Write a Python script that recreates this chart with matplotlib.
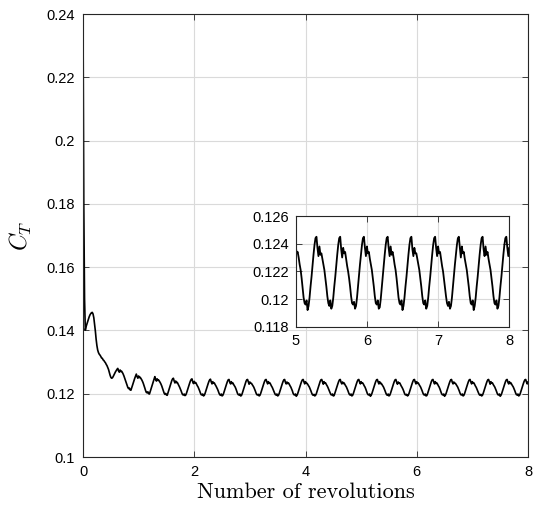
import numpy as np
import matplotlib
matplotlib.use("Agg")
import matplotlib.pyplot as plt
from matplotlib.ticker import FormatStrFormatter

plt.rcParams['mathtext.fontset'] = 'cm'
plt.rcParams['font.family'] = ['Liberation Sans', 'DejaVu Sans']

# ---- data: thrust coefficient sampled every 1/72 revolution (0 .. 8 rev) ----
ct_startup = [
    0.2400, 0.1800, 0.1500, 0.1401, 0.1412, 0.1420, 0.1428, 0.1436, 0.1443, 0.1449, 0.1453, 0.1456,
    0.1457, 0.1452, 0.1440, 0.1420, 0.1398, 0.1372, 0.1352, 0.1338, 0.1330, 0.1325, 0.1322, 0.1318,
    0.1313, 0.1312, 0.1307, 0.1305, 0.1301, 0.1298, 0.1293, 0.1289, 0.1283, 0.1277, 0.1268, 0.1259,
    0.1252, 0.1249, 0.1250, 0.1254, 0.1259, 0.1264, 0.1269, 0.1273, 0.1277, 0.1280, 0.1272, 0.1268,
    0.1275, 0.1270, 0.1271, 0.1267, 0.1262, 0.1256, 0.1249, 0.1242, 0.1235, 0.1227, 0.1220, 0.1216,
    0.1218, 0.1212, 0.1211, 0.1218, 0.1226, 0.1234, 0.1242, 0.1249, 0.1256, 0.1262, 0.1254, 0.1249,
    0.1256, 0.1251, 0.1252, 0.1248, 0.1244, 0.1239, 0.1233, 0.1226, 0.1218, 0.1210, 0.1204, 0.1203,
    0.1206, 0.1200, 0.1199, 0.1207, 0.1215, 0.1223, 0.1231, 0.1239, 0.1246, 0.1254, 0.1246, 0.1240,
    0.1247, 0.1242, 0.1243, 0.1239, 0.1235, 0.1230, 0.1224, 0.1217, 0.1209, 0.1202, 0.1198, 0.1201,
    0.1196, 0.1195, 0.1203, 0.1212, 0.1220, 0.1228, 0.1236, 0.1242, 0.1247,
]

ct_periodic = [
    [0.1249, 0.1240, 0.1234, 0.1240, 0.1235, 0.1236, 0.1231, 0.1226, 0.1221, 0.1215, 0.1209, 0.1202, 0.1197, 0.1196, 0.1199, 0.1194, 0.1196, 0.1202, 0.1210, 0.1217, 0.1225, 0.1233, 0.1240, 0.1245],
    [0.1247, 0.1238, 0.1232, 0.1239, 0.1234, 0.1235, 0.1230, 0.1225, 0.1221, 0.1215, 0.1209, 0.1202, 0.1197, 0.1196, 0.1199, 0.1193, 0.1195, 0.1201, 0.1209, 0.1216, 0.1224, 0.1232, 0.1239, 0.1244],
    [0.1246, 0.1237, 0.1231, 0.1238, 0.1233, 0.1234, 0.1229, 0.1225, 0.1220, 0.1215, 0.1209, 0.1202, 0.1197, 0.1195, 0.1199, 0.1193, 0.1195, 0.1201, 0.1209, 0.1216, 0.1224, 0.1232, 0.1239, 0.1244],
    [0.1245, 0.1236, 0.1231, 0.1238, 0.1232, 0.1234, 0.1229, 0.1225, 0.1221, 0.1215, 0.1208, 0.1201, 0.1197, 0.1196, 0.1199, 0.1193, 0.1194, 0.1200, 0.1208, 0.1216, 0.1224, 0.1232, 0.1239, 0.1244],
    [0.1245, 0.1237, 0.1230, 0.1237, 0.1233, 0.1233, 0.1229, 0.1225, 0.1221, 0.1215, 0.1209, 0.1202, 0.1197, 0.1196, 0.1198, 0.1193, 0.1195, 0.1201, 0.1209, 0.1217, 0.1225, 0.1232, 0.1239, 0.1244],
    [0.1245, 0.1237, 0.1231, 0.1238, 0.1233, 0.1234, 0.1229, 0.1224, 0.1220, 0.1214, 0.1208, 0.1202, 0.1197, 0.1196, 0.1199, 0.1193, 0.1195, 0.1201, 0.1209, 0.1216, 0.1224, 0.1232, 0.1239, 0.1244],
    [0.1245, 0.1236, 0.1231, 0.1237, 0.1232, 0.1234, 0.1230, 0.1225, 0.1221, 0.1215, 0.1209, 0.1201, 0.1197, 0.1196, 0.1199, 0.1192, 0.1195, 0.1201, 0.1209, 0.1216, 0.1224, 0.1232, 0.1239, 0.1244],
    [0.1245, 0.1237, 0.1231, 0.1238, 0.1233, 0.1233, 0.1229, 0.1225, 0.1221, 0.1215, 0.1209, 0.1202, 0.1197, 0.1195, 0.1198, 0.1193, 0.1195, 0.1200, 0.1208, 0.1216, 0.1224, 0.1232, 0.1239, 0.1244],
    [0.1245, 0.1237, 0.1230, 0.1238, 0.1233, 0.1234, 0.1229, 0.1225, 0.1220, 0.1214, 0.1208, 0.1202, 0.1197, 0.1196, 0.1199, 0.1193, 0.1194, 0.1201, 0.1209, 0.1217, 0.1225, 0.1232, 0.1239, 0.1244],
    [0.1245, 0.1236, 0.1231, 0.1237, 0.1232, 0.1234, 0.1229, 0.1225, 0.1221, 0.1215, 0.1209, 0.1202, 0.1197, 0.1196, 0.1199, 0.1193, 0.1195, 0.1201, 0.1209, 0.1216, 0.1224, 0.1232, 0.1239, 0.1244],
    [0.1245, 0.1237, 0.1231, 0.1238, 0.1233, 0.1234, 0.1230, 0.1225, 0.1221, 0.1215, 0.1208, 0.1201, 0.1197, 0.1196, 0.1199, 0.1192, 0.1195, 0.1201, 0.1209, 0.1216, 0.1224, 0.1232, 0.1239, 0.1244],
    [0.1245, 0.1237, 0.1231, 0.1238, 0.1232, 0.1233, 0.1229, 0.1225, 0.1221, 0.1215, 0.1209, 0.1202, 0.1197, 0.1195, 0.1199, 0.1193, 0.1195, 0.1201, 0.1209, 0.1216, 0.1224, 0.1232, 0.1239, 0.1244],
    [0.1245, 0.1236, 0.1230, 0.1237, 0.1233, 0.1234, 0.1229, 0.1224, 0.1220, 0.1215, 0.1209, 0.1202, 0.1197, 0.1196, 0.1198, 0.1193, 0.1195, 0.1201, 0.1209, 0.1217, 0.1225, 0.1232, 0.1239, 0.1244],
    [0.1245, 0.1237, 0.1231, 0.1238, 0.1233, 0.1234, 0.1229, 0.1225, 0.1221, 0.1215, 0.1209, 0.1202, 0.1197, 0.1196, 0.1199, 0.1193, 0.1194, 0.1200, 0.1208, 0.1216, 0.1224, 0.1232, 0.1239, 0.1244],
    [0.1245, 0.1237, 0.1231, 0.1238, 0.1232, 0.1234, 0.1230, 0.1225, 0.1221, 0.1215, 0.1208, 0.1201, 0.1197, 0.1196, 0.1199, 0.1192, 0.1195, 0.1201, 0.1209, 0.1216, 0.1224, 0.1232, 0.1239, 0.1244],
    [0.1245, 0.1236, 0.1231, 0.1237, 0.1233, 0.1233, 0.1229, 0.1225, 0.1221, 0.1215, 0.1209, 0.1202, 0.1197, 0.1196, 0.1199, 0.1193, 0.1195, 0.1201, 0.1209, 0.1216, 0.1224, 0.1232, 0.1239, 0.1244],
    [0.1245, 0.1237, 0.1231, 0.1238, 0.1233, 0.1234, 0.1229, 0.1224, 0.1220, 0.1214, 0.1208, 0.1202, 0.1197, 0.1195, 0.1198, 0.1193, 0.1195, 0.1201, 0.1209, 0.1217, 0.1225, 0.1232, 0.1239, 0.1244],
    [0.1245, 0.1237, 0.1230, 0.1238, 0.1233, 0.1234, 0.1229, 0.1225, 0.1221, 0.1215, 0.1209, 0.1202, 0.1197, 0.1196, 0.1199, 0.1192, 0.1195, 0.1201, 0.1209, 0.1216, 0.1224, 0.1232, 0.1239, 0.1244],
    [0.1245, 0.1236, 0.1231, 0.1238, 0.1232, 0.1234, 0.1229, 0.1225, 0.1221, 0.1215, 0.1209, 0.1202, 0.1197, 0.1196, 0.1199, 0.1193, 0.1195, 0.1201, 0.1209, 0.1216, 0.1224, 0.1232, 0.1239, 0.1244],
]

ct_tail = [0.1245, 0.1237, 0.1231, 0.1237]

ct = np.concatenate([ct_startup] + ct_periodic + [ct_tail])
revolutions = np.linspace(0, 8, len(ct))

main_xticks = [0, 2, 4, 6, 8]
main_yticks = [0.10, 0.12, 0.14, 0.16, 0.18, 0.20, 0.22, 0.24]
inset_xticks = [5, 6, 7, 8]
inset_yticks = [0.118, 0.120, 0.122, 0.124, 0.126]

W, H = 536, 507
fig = plt.figure(figsize=(W / 100, H / 100), dpi=100)

spine_c = '#262626'
grid_c = '#dadada'


def style(ax):
    for s in ax.spines.values():
        s.set_color(spine_c)
        s.set_linewidth(0.8)
    ax.tick_params(direction='in', length=4, width=0.6, colors=spine_c,
                   labelcolor='black', labelsize=10.5, top=True, right=True,
                   labeltop=False, labelright=False)
    ax.grid(True, color=grid_c, linewidth=0.8)
    ax.set_axisbelow(True)
    ax.xaxis.set_major_formatter(FormatStrFormatter('%g'))
    ax.yaxis.set_major_formatter(FormatStrFormatter('%g'))


ax = fig.add_axes([83 / W, 1 - 457 / H, (528 - 83) / W, (457 - 14) / H])
ax.plot(revolutions, ct, color='black', linewidth=1.2)
ax.set_xlim(0, 8)
ax.set_ylim(0.1, 0.24)
ax.set_xticks(main_xticks)
ax.set_yticks(main_yticks)
style(ax)
ax.tick_params(axis='x', pad=6)
ax.tick_params(axis='y', pad=6)
ax.set_xlabel('Number of revolutions', fontfamily='cmr10', fontsize=16, labelpad=2)
ax.set_ylabel('$C_T$', fontsize=17, labelpad=9)

axi = fig.add_axes([295.7 / W, 1 - 326.7 / H, 213.6 / W, 110.7 / H])
axi.set_facecolor('white')
axi.plot(revolutions, ct, color='black', linewidth=1.3)
axi.set_xlim(5, 8)
axi.set_ylim(0.118, 0.126)
axi.set_xticks(inset_xticks)
axi.set_yticks(inset_yticks)
style(axi)
axi.tick_params(axis='x', pad=5)
axi.tick_params(axis='y', pad=5)

fig.savefig('out.png', dpi=100)
